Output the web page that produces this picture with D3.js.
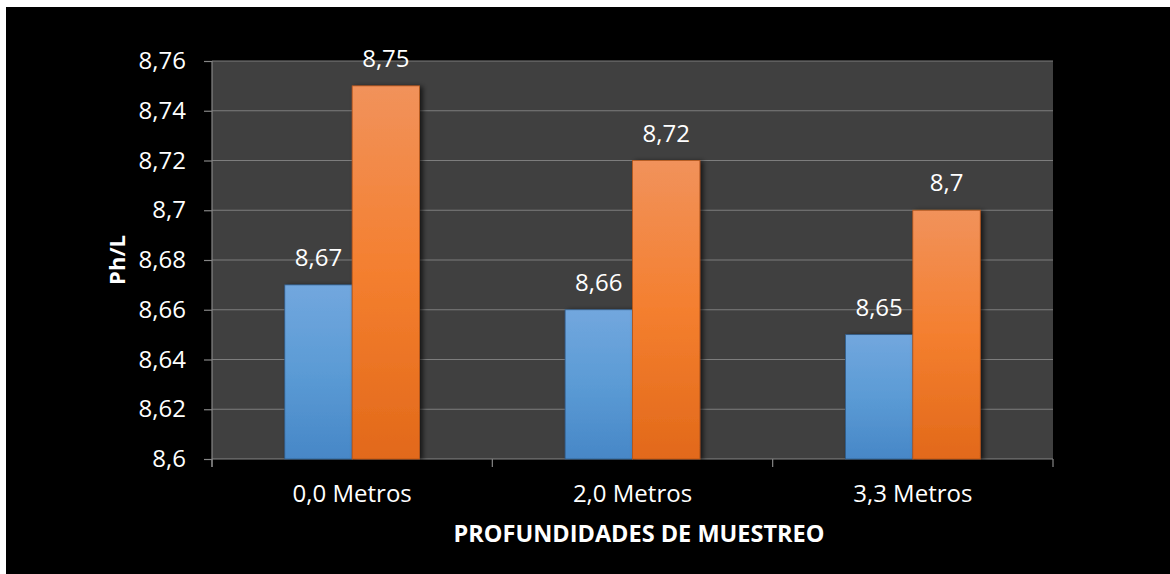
<!DOCTYPE html>
<html>
<head>
<meta charset="utf-8">
<script src="https://cdn.jsdelivr.net/npm/d3@7"></script>
<style>
  html, body { margin: 0; padding: 0; background: #ffffff; }
  svg { display: block; }
  text { font-family: "Open Sans", "Liberation Sans", sans-serif; fill: #ffffff; }
</style>
</head>
<body>
<svg id="chart" width="1170" height="574"></svg>
<script>
// pH per sampling depth
const categories = ["0,0 Metros", "2,0 Metros", "3,3 Metros"];
const seriesNames = ["serieA", "serieB"];
const serieA = [8.67, 8.66, 8.65];
const serieB = [8.75, 8.72, 8.7];
const yTicks = [8.6, 8.62, 8.64, 8.66, 8.68, 8.7, 8.72, 8.74, 8.76];
const yTitle = "Ph/L";
const xTitle = "PROFUNDIDADES DE MUESTREO";

const W = 1170, H = 574;
const plot = { left: 212, right: 1053, top: 61, bottom: 459 };

const svg = d3.select("#chart");
const defs = svg.append("defs");

// per-bar vertical gradients (light top, base middle, darker bottom)
const grads = [
  { id: "gradA", stops: ["#72a7de", "#5b9bd5", "#4787c7"] },
  { id: "gradB", stops: ["#f1925b", "#f47f2f", "#e2691a"] }
];
grads.forEach(g => {
  const lg = defs.append("linearGradient").attr("id", g.id)
    .attr("x1", 0).attr("y1", 0).attr("x2", 0).attr("y2", 1);
  lg.append("stop").attr("offset", "0%").attr("stop-color", g.stops[0]);
  lg.append("stop").attr("offset", "50%").attr("stop-color", g.stops[1]);
  lg.append("stop").attr("offset", "100%").attr("stop-color", g.stops[2]);
});
const shadow = defs.append("filter").attr("id", "barShadow")
  .attr("x", "-20%").attr("y", "-10%").attr("width", "150%").attr("height", "120%");
shadow.append("feDropShadow").attr("dx", 3).attr("dy", 1)
  .attr("stdDeviation", 2.5).attr("flood-color", "#000").attr("flood-opacity", 0.65);

// frame: black panel inset on white
svg.append("rect").attr("x", 6).attr("y", 7).attr("width", W - 6).attr("height", H - 7)
  .attr("fill", "#000000");

// plot area
svg.append("rect")
  .attr("x", plot.left).attr("y", plot.top)
  .attr("width", plot.right - plot.left).attr("height", plot.bottom - plot.top)
  .attr("fill", "#404040");

const x0 = d3.scaleBand().domain(categories).range([plot.left, plot.right]).padding(0);
const x1 = d3.scaleBand().domain(seriesNames).range([0, x0.bandwidth()])
  .paddingInner(0).paddingOuter(1.08);
const y = d3.scaleLinear().domain([8.6, 8.76]).range([plot.bottom, plot.top]);

const fmt = v => String(+v.toFixed(2)).replace(".", ",");

// horizontal gridlines
svg.append("g").selectAll("line").data(yTicks.slice(1)).join("line")
  .attr("x1", plot.left).attr("x2", plot.right)
  .attr("y1", d => y(d)).attr("y2", d => y(d))
  .attr("stroke", "#7d7d7d").attr("stroke-width", 1.2);

// y axis
const yAxis = svg.append("g").attr("transform", `translate(${plot.left},0)`)
  .call(d3.axisLeft(y).tickValues(yTicks).tickFormat(fmt).tickSize(8).tickPadding(18));
yAxis.select(".domain").attr("stroke", "#868686").attr("stroke-width", 1.2)
  .attr("d", `M0,${plot.top}V${plot.bottom + 8}`);
yAxis.selectAll(".tick line").attr("stroke", "#868686").attr("stroke-width", 1.2);
yAxis.selectAll(".tick text").attr("fill", "#ffffff")
  .style("font-size", "24px").style("font-family", "'Open Sans', sans-serif");

// x axis with ticks on category boundaries
const xAxisG = svg.append("g").attr("transform", `translate(0,${plot.bottom})`);
xAxisG.append("line").attr("x1", plot.left).attr("x2", plot.right)
  .attr("stroke", "#868686").attr("stroke-width", 1.2);
const bounds = categories.map(c => x0(c)).concat([x0(categories[categories.length - 1]) + x0.bandwidth()]);
xAxisG.selectAll("line.tk").data(bounds).join("line").attr("class", "tk")
  .attr("x1", d => d).attr("x2", d => d).attr("y1", 0).attr("y2", 8)
  .attr("stroke", "#868686").attr("stroke-width", 1.2);
xAxisG.selectAll("text").data(categories).join("text")
  .attr("x", d => x0(d) + x0.bandwidth() / 2).attr("y", 43)
  .attr("text-anchor", "middle").style("font-size", "24px")
  .text(d => d);

// bars
const rows = categories.map((c, i) => ({ cat: c, vals: [serieA[i], serieB[i]] }));
const groups = svg.append("g").selectAll("g").data(rows).join("g")
  .attr("transform", d => `translate(${x0(d.cat)},0)`);

groups.selectAll("rect").data(d => d.vals.map((v, k) => ({ v, k }))).join("rect")
  .attr("x", d => x1(seriesNames[d.k]))
  .attr("width", x1.bandwidth())
  .attr("y", d => y(d.v))
  .attr("height", d => y(8.6) - y(d.v))
  .attr("fill", d => `url(#${grads[d.k].id})`)
  .attr("stroke", d => d.k === 0 ? "#2f5c8a" : "#b9561a")
  .attr("stroke-width", 0.8)
  .attr("filter", "url(#barShadow)");

// value labels
groups.selectAll("text").data(d => d.vals.map((v, k) => ({ v, k }))).join("text")
  .attr("x", d => x1(seriesNames[d.k]) + x1.bandwidth() / 2)
  .attr("y", d => y(d.v) - 19)
  .attr("text-anchor", "middle").style("font-size", "24px")
  .text(d => fmt(d.v));

// axis titles
svg.append("text")
  .attr("transform", `translate(125,${(plot.top + plot.bottom) / 2}) rotate(-90)`)
  .attr("text-anchor", "middle").style("font-size", "22px").style("font-weight", "bold")
  .text(yTitle);
svg.append("text")
  .attr("x", 639).attr("y", 542)
  .attr("text-anchor", "middle").style("font-size", "23.5px").style("font-weight", "bold")
  .text(xTitle);
</script>
</body>
</html>
